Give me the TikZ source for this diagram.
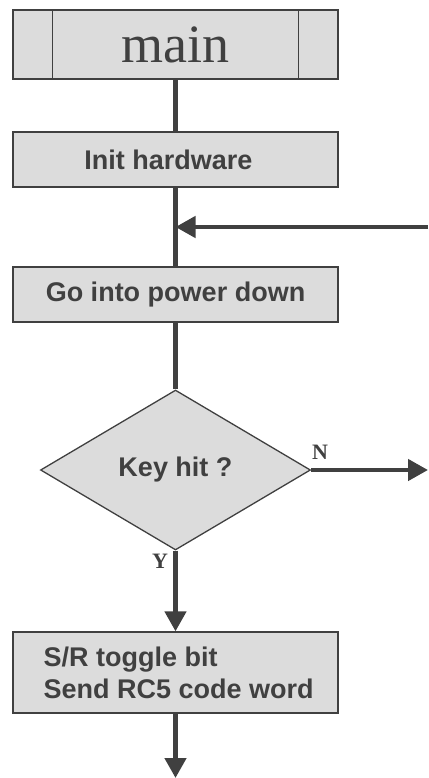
\documentclass[tikz,border=0pt]{standalone}
\usepackage{fontspec}
\setmainfont{Liberation Serif}
\setsansfont{Liberation Sans}
\usetikzlibrary{arrows.meta,shapes.geometric}
\definecolor{ink}{HTML}{404040}
\definecolor{boxfill}{HTML}{DCDCDC}
\begin{document}
\begin{tikzpicture}[x=1pt,y=-1pt,
  box/.style={draw=ink,fill=boxfill,line width=1.3pt,minimum width=325pt,inner sep=0pt,
    text=ink,font=\sffamily\bfseries\fontsize{27}{32}\selectfont},
  boxtext/.style={inner sep=0pt,text=ink,font=\sffamily\bfseries\fontsize{27}{32}\selectfont},
  flow/.style={draw=ink,line width=4.5pt},
  tip/.style={-{Triangle[length=20pt,width=21pt]}},
  lbl/.style={text=ink,font=\rmfamily\bfseries\fontsize{22}{26}\selectfont,inner sep=0pt}]
\useasboundingbox (0,0) rectangle (428,778);
% main
\node[box,minimum height=69pt,font=\rmfamily\fontsize{54}{60}\selectfont] (main) at (175.5,44.5) {main};
\draw[ink,line width=1.3pt] ([xshift=40pt]main.north west) -- ([xshift=40pt]main.south west);
\draw[ink,line width=1.3pt] ([xshift=-40pt]main.north east) -- ([xshift=-40pt]main.south east);
% boxes
\node[box,minimum height=55pt] (init) at (175.5,159.5) {};
\node[boxtext] (inittext) at ([xshift=-7pt]init.center) {Init hardware};
\node[box,minimum height=55pt] (go) at (175.5,294.5) {Go into power down};
\node[draw=ink,fill=boxfill,line width=1.3pt,diamond,minimum width=270pt,minimum height=160pt,
  inner sep=0pt,text=ink,font=\sffamily\bfseries\fontsize{27}{32}\selectfont] (key) at (175.5,470) {Key hit ?};
\node[box,minimum height=81pt] (sr) at (175.5,672.5) {};
\node[boxtext,anchor=west,align=left]
  (srtext) at ([xshift=31pt]sr.west) {S/R toggle bit\\Send RC5 code word};
% coordinates
\coordinate (loopin) at (428,227);
\coordinate (merge) at (init.south |- loopin);
\coordinate (nout) at (428,470);
\coordinate (endout) at (sr.south |- 0,778);
% connectors
\draw[flow] (main.south) -- (init.north);
\draw[flow] (init.south) -- (go.north);
\draw[flow,tip] (loopin) -- (merge);
\draw[flow] (go.south) -- (key.north);
\draw[flow,tip] (key.east) -- (nout);
\draw[flow,tip] (key.south) -- (sr.north);
\draw[flow,tip] (sr.south) -- (endout);
% labels
\node[lbl] (nlab) at (320,452) {N};
\node[lbl] (ylab) at (160,561) {Y};
\end{tikzpicture}
\end{document}
